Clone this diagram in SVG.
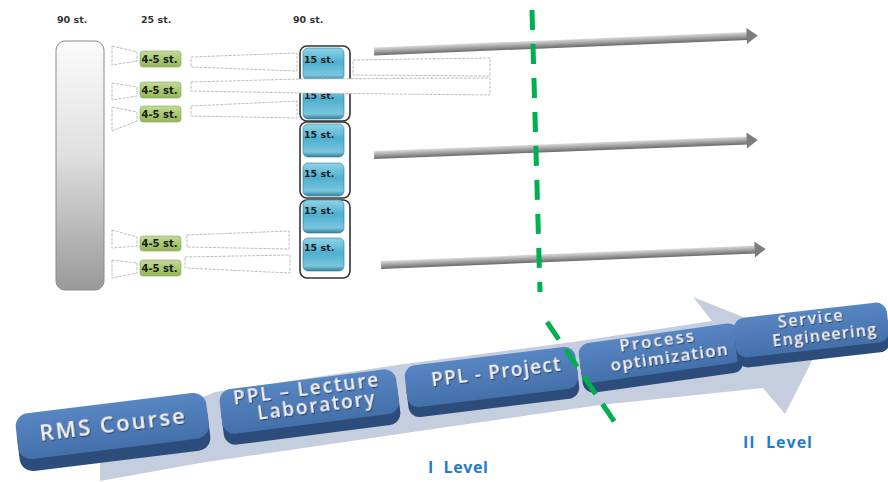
<svg xmlns="http://www.w3.org/2000/svg" width="888" height="482" viewBox="0 0 888 482">
<defs>
<linearGradient id="barGrad" x1="0" y1="0" x2="0" y2="1">
<stop offset="0" stop-color="#fbfbfb"/><stop offset="0.45" stop-color="#e0e0e0"/><stop offset="1" stop-color="#999999"/>
</linearGradient>
<linearGradient id="greenGrad" x1="0" y1="0" x2="0" y2="1">
<stop offset="0" stop-color="#c3da9c"/><stop offset="0.5" stop-color="#a9c871"/><stop offset="1" stop-color="#93b65a"/>
</linearGradient>
<linearGradient id="blueGrad" x1="0" y1="0" x2="0" y2="1">
<stop offset="0" stop-color="#8fd3e6"/><stop offset="0.45" stop-color="#4eb0cf"/><stop offset="0.85" stop-color="#7cc6dd"/><stop offset="1" stop-color="#2f7f9c"/>
</linearGradient>
<linearGradient id="shaftGrad" x1="0" y1="0" x2="0" y2="1">
<stop offset="0" stop-color="#dcdcdc"/><stop offset="0.35" stop-color="#b4b4b4"/><stop offset="1" stop-color="#6a6a6a"/>
</linearGradient>
<linearGradient id="faceGrad" x1="0" y1="0" x2="0" y2="1">
<stop offset="0" stop-color="#5886c3"/><stop offset="1" stop-color="#4470aa"/>
</linearGradient>
<filter id="emb" x="-10%" y="-30%" width="120%" height="160%">
<feDropShadow dx="0.8" dy="1.2" stdDeviation="0.5" flood-color="#1a2d4a" flood-opacity="0.85"/>
</filter>
<style>
.hdr{font-family:"DejaVu Sans",sans-serif;font-weight:bold;font-size:9.5px;fill:#333}
.gbox{fill:url(#greenGrad);stroke:#8aaa55;stroke-width:0.6}
.glbl{font-family:"DejaVu Sans",sans-serif;font-weight:bold;font-size:10px;fill:#1a1a1a}
.bbox{fill:url(#blueGrad);stroke:#2d7d98;stroke-width:0.6}
.blbl{font-family:"DejaVu Sans",sans-serif;font-weight:bold;font-size:9.5px;fill:#1a1a1a}
.grp{fill:none;stroke:#333;stroke-width:1.6}
.sk{fill:none;stroke:#b5b5b5;stroke-width:0.9;stroke-dasharray:3 1.2}
.shaft{fill:url(#shaftGrad)}
.head{fill:#7d7d7d}
.depth{fill:#2c4c7b}
.face{fill:url(#faceGrad)}
.btxt{font-family:"Open Sans","DejaVu Sans",sans-serif;font-weight:600;fill:#f0f0f0;text-anchor:middle;filter:url(#emb)}
.lvl{font-family:"Open Sans","Liberation Sans",sans-serif;font-weight:bold;font-size:16px;fill:#1f7bd0}
.divider{fill:none;stroke:#00b050;stroke-width:5}
</style>
</defs>
<rect width="888" height="482" fill="#ffffff"/>

<g id="headers">
<text class="hdr" x="57" y="23">90 st.</text>
<text class="hdr" x="141" y="23">25 st.</text>
<text class="hdr" x="293" y="23">90 st.</text>
</g>

<g id="total-bar">
<rect x="56" y="41" width="48" height="249" rx="9" fill="url(#barGrad)" stroke="#8a8a8a" stroke-width="1"/>
</g>

<g id="group-outlines">
<rect class="grp" x="300" y="46" width="50" height="75" rx="7"/>
<rect class="grp" x="300" y="122" width="50" height="76" rx="7"/>
<rect class="grp" x="300" y="200" width="50" height="78" rx="7"/>
</g>

<g id="blue-boxes">
<g id="b1"><rect class="bbox" x="303" y="48" width="41" height="32" rx="5"/><text class="blbl" x="304" y="63">15 st.</text></g>
<g id="b2"><rect class="bbox" x="303" y="84" width="41" height="35" rx="5"/><text class="blbl" x="304" y="99">15 st.</text></g>
<g id="b3"><rect class="bbox" x="303" y="124" width="41" height="33" rx="5"/><text class="blbl" x="304" y="138">15 st.</text></g>
<g id="b4"><rect class="bbox" x="303" y="163" width="41" height="33" rx="5"/><text class="blbl" x="304" y="177">15 st.</text></g>
<g id="b5"><rect class="bbox" x="303" y="200" width="41" height="33" rx="5"/><text class="blbl" x="304" y="214">15 st.</text></g>
<g id="b6"><rect class="bbox" x="303" y="238" width="41" height="33" rx="5"/><text class="blbl" x="304" y="251">15 st.</text></g>
</g>

<g id="green-boxes">
<g id="g1"><rect class="gbox" x="140" y="51" width="41" height="16" rx="3"/><text class="glbl" x="141.5" y="63">4-5 st.</text></g>
<g id="g2"><rect class="gbox" x="140" y="82" width="41" height="16" rx="3"/><text class="glbl" x="141.5" y="94">4-5 st.</text></g>
<g id="g3"><rect class="gbox" x="140" y="106" width="41" height="16" rx="3"/><text class="glbl" x="141.5" y="118">4-5 st.</text></g>
<g id="g4"><rect class="gbox" x="140" y="236" width="41" height="15" rx="3"/><text class="glbl" x="141.5" y="247">4-5 st.</text></g>
<g id="g5"><rect class="gbox" x="140" y="260" width="41" height="16" rx="3"/><text class="glbl" x="141.5" y="272">4-5 st.</text></g>
</g>

<g id="connectors">
<polygon class="sk" points="112,46 137,52 137,61 112,65"/>
<polygon class="sk" points="112,83 137,87 137,96 112,100"/>
<polygon class="sk" points="112,107 137,112 137,121 112,131"/>
<polygon class="sk" points="112,230 137,237 137,246 112,248"/>
<polygon class="sk" points="112,260 137,263 137,273 112,278"/>
<polygon class="sk" points="191,57 297,53 297,71 191,67"/>
<polygon class="sk" points="191,106 297,101 297,118 191,116"/>
<polygon class="sk" points="187,235 289,231 289,249 187,247"/>
<polygon class="sk" points="185,257 290,255 290,273 185,268"/>
<polygon class="sk" points="353,60 490,58 490,76 353,75"/>
<polygon points="191,82 300,79 490,78 490,95 300,93 191,91" fill="#ffffff" stroke="#b5b5b5" stroke-width="0.9" stroke-dasharray="3 1.2"/>
<g id="arrow1" transform="translate(374,51.5) rotate(-2.39)">
<rect class="shaft" x="0" y="-4" width="374" height="8"/>
<polygon class="head" points="373,-8 384,0 373,8"/>
</g>
<g id="arrow2" transform="translate(374,155) rotate(-2.24)">
<rect class="shaft" x="0" y="-4" width="374" height="8"/>
<polygon class="head" points="373,-8 384,0 373,8"/>
</g>
<g id="arrow3" transform="translate(381,265) rotate(-2.38)">
<rect class="shaft" x="0" y="-4" width="375" height="8"/>
<polygon class="head" points="374,-8 385,0 374,8"/>
</g>
</g>

<g id="process-band">
<polygon points="100,490 100,440 150,420 215,392 397,365 573,342 712,321 693,297 819,347 785,414 763,388 600,405 440,428 200,463 100,481" fill="#c5cede"/>
</g>

<g id="block-rms" transform="translate(113,432) rotate(-7)">
<rect class="depth" x="-96" y="-19" width="192" height="48" rx="13"/>
<rect class="face" x="-96" y="-29" width="192" height="46" rx="13"/>
<text class="btxt" x="0" y="0" font-size="22" textLength="146" lengthAdjust="spacing">RMS Course</text>
</g>

<g id="block-lecture" transform="translate(310,407) rotate(-7.3)">
<rect class="depth" x="-89" y="-18" width="178" height="46" rx="12"/>
<rect class="face" x="-89" y="-28" width="178" height="45" rx="12"/>
<text class="btxt" x="-2" y="-12" font-size="19" textLength="146" lengthAdjust="spacing">PPL – Lecture</text>
<text class="btxt" x="6" y="6" font-size="19" textLength="118" lengthAdjust="spacing">Laboratory</text>
</g>

<g id="block-project" transform="translate(492,382) rotate(-7)">
<rect class="depth" x="-86" y="-16" width="172" height="42" rx="11"/>
<rect class="face" x="-86" y="-26" width="172" height="42" rx="11"/>
<text class="btxt" x="5" y="-3" font-size="19" textLength="130" lengthAdjust="spacing">PPL - Project</text>
</g>

<g id="block-optimization" transform="translate(661,358) rotate(-8)">
<rect class="depth" x="-81" y="-15" width="162" height="40" rx="11"/>
<rect class="face" x="-81" y="-25" width="162" height="40" rx="11"/>
<text class="btxt" x="-2" y="-12" font-size="17" textLength="75" lengthAdjust="spacing">Process</text>
<text class="btxt" x="8" y="6" font-size="17" textLength="118" lengthAdjust="spacing">optimization</text>
</g>

<g id="block-service" transform="translate(812,335) rotate(-6.5)">
<rect class="depth" x="-77" y="-15" width="154" height="40" rx="11"/>
<rect class="face" x="-77" y="-25" width="154" height="40" rx="11"/>
<text class="btxt" x="0" y="-11" font-size="16" textLength="65" lengthAdjust="spacing">Service</text>
<text class="btxt" x="12" y="7" font-size="16" textLength="104" lengthAdjust="spacing">Engineering</text>
</g>

<g id="levels">
<text class="lvl" x="428" y="473" textLength="60" lengthAdjust="spacing" xml:space="preserve">I  Level</text>
<text class="lvl" x="743" y="448" textLength="69" lengthAdjust="spacing" xml:space="preserve">II  Level</text>
</g>

<g id="divider">
<path class="divider" d="M532,10 L540,292" stroke-dasharray="20 14"/>
<path class="divider" d="M547,322 L620,430" stroke-dasharray="21 12"/>
</g>
</svg>
